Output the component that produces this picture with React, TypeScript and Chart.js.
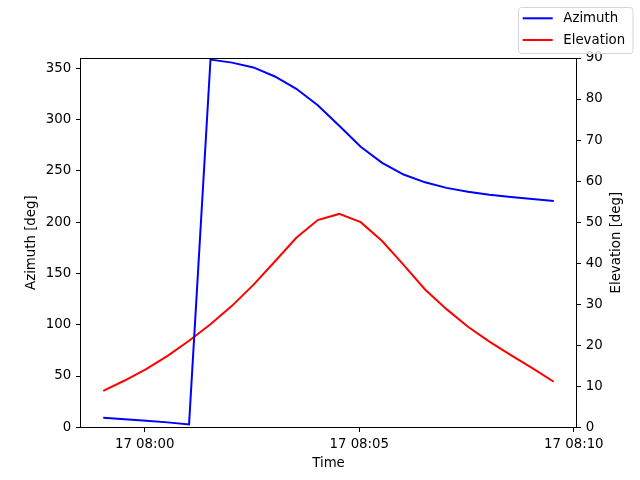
import React, { useEffect, useRef } from "react";
import { Chart, registerables } from "chart.js";

Chart.register(...registerables);

// ---- data ----
const day = "17";
const times = [
  "07:59:02", "07:59:32", "08:00:02", "08:00:32", "08:01:02", "08:01:32",
  "08:02:02", "08:02:32", "08:03:02", "08:03:32", "08:04:02", "08:04:32",
  "08:05:02", "08:05:32", "08:06:02", "08:06:32", "08:07:02", "08:07:32",
  "08:08:02", "08:08:32", "08:09:02", "08:09:32",
];
const azimuth = [
  9.3, 7.8, 6.3, 4.8, 2.8, 358.5, 355.5, 350.8, 342.0, 330.0, 314.0,
  294.0, 273.5, 257.8, 246.4, 238.8, 233.4, 229.6, 226.8, 224.6, 222.6, 220.6,
];
const elevation = [
  8.9, 11.4, 14.2, 17.4, 21.1, 25.1, 29.6, 34.7, 40.4, 46.2, 50.5,
  52.0, 50.0, 45.4, 39.6, 33.6, 28.8, 24.5, 20.9, 17.6, 14.4, 11.1,
];
const xTickTimes = ["08:00", "08:05", "08:10"];
const azTicks = [0, 50, 100, 150, 200, 250, 300, 350];
const elTicks = [0, 10, 20, 30, 40, 50, 60, 70, 80, 90];
const seriesNames = ["Azimuth", "Elevation"];
const seriesColors = ["#0000ff", "#ff0000"];

// minutes relative to 08:00
const toMin = (s: string) => {
  const p = s.split(":").map(Number);
  return p[0] * 60 + p[1] + (p[2] || 0) / 60 - 480;
};
const fmt = (m: number) => {
  const tot = Math.round(m + 480);
  const h = Math.floor(tot / 60);
  const mm = tot % 60;
  return `${day} ${String(h).padStart(2, "0")}:${String(mm).padStart(2, "0")}`;
};

const FONT = "DejaVu Sans";
const FS = 13.33;

export default function App() {
  const ref = useRef<HTMLCanvasElement | null>(null);

  useEffect(() => {
    if (!ref.current) return;
    const xs = times.map(toMin);
    const span = xs[xs.length - 1] - xs[0];
    const xmin = xs[0] - 0.05 * span;
    const xmax = xs[xs.length - 1] + 0.05 * span;

    Chart.defaults.font.family = FONT;
    Chart.defaults.font.size = FS;
    Chart.defaults.color = "#000";

    const deco = {
      id: "deco",
      afterDraw(chart: any) {
        const ctx = chart.ctx;
        const a = chart.chartArea;
        ctx.save();
        // top spine
        ctx.strokeStyle = "#000";
        ctx.lineWidth = 1;
        ctx.beginPath();
        ctx.moveTo(a.left, Math.round(a.top) + 0.5);
        ctx.lineTo(a.right, Math.round(a.top) + 0.5);
        ctx.stroke();

        ctx.fillStyle = "#000";
        ctx.font = `${FS}px '${FONT}'`;
        ctx.textBaseline = "alphabetic";
        ctx.textAlign = "center";
        const cy = (a.top + a.bottom) / 2;
        ctx.fillText("Time", (a.left + a.right) / 2, 466.5);

        ctx.save();
        ctx.translate(35, cy);
        ctx.rotate(-Math.PI / 2);
        ctx.fillText("Azimuth [deg]", 0, 0);
        ctx.restore();

        ctx.save();
        ctx.translate(619.5, cy);
        ctx.rotate(-Math.PI / 2);
        ctx.fillText("Elevation [deg]", 0, 0);
        ctx.restore();

        // legend
        const bx = 518.5, by = 7.5, bw = 114.5, bh = 46;
        const r = 3;
        ctx.beginPath();
        ctx.moveTo(bx + r, by);
        ctx.lineTo(bx + bw - r, by);
        ctx.quadraticCurveTo(bx + bw, by, bx + bw, by + r);
        ctx.lineTo(bx + bw, by + bh - r);
        ctx.quadraticCurveTo(bx + bw, by + bh, bx + bw - r, by + bh);
        ctx.lineTo(bx + r, by + bh);
        ctx.quadraticCurveTo(bx, by + bh, bx, by + bh - r);
        ctx.lineTo(bx, by + r);
        ctx.quadraticCurveTo(bx, by, bx + r, by);
        ctx.closePath();
        ctx.fillStyle = "rgba(255,255,255,0.8)";
        ctx.fill();
        ctx.strokeStyle = "#d6d6d6";
        ctx.stroke();

        const rows = [18.3, 40];
        ctx.textAlign = "left";
        ctx.textBaseline = "middle";
        seriesNames.forEach((name, i) => {
          ctx.strokeStyle = seriesColors[i];
          ctx.lineWidth = 2;
          ctx.beginPath();
          ctx.moveTo(522.7, rows[i]);
          ctx.lineTo(552.7, rows[i]);
          ctx.stroke();
          ctx.fillStyle = "#000";
          ctx.fillText(name, 563.3, rows[i] + 0.5);
        });
        ctx.restore();
      },
    };

    const axisCommon = {
      grid: {
        display: true,
        drawOnChartArea: false,
        drawTicks: true,
        tickLength: 4.7,
        tickColor: "#000",
        tickWidth: 1,
        color: "#000",
      },
      border: { display: true, color: "#000", width: 1 },
    };

    const chart = new Chart(ref.current, {
      type: "line",
      data: {
        datasets: [
          {
            label: seriesNames[0],
            data: xs.map((x, i) => ({ x, y: azimuth[i] })),
            borderColor: seriesColors[0],
            backgroundColor: seriesColors[0],
            borderWidth: 2,
            pointRadius: 0,
            tension: 0,
            yAxisID: "y",
          },
          {
            label: seriesNames[1],
            data: xs.map((x, i) => ({ x, y: elevation[i] })),
            borderColor: seriesColors[1],
            backgroundColor: seriesColors[1],
            borderWidth: 2,
            pointRadius: 0,
            tension: 0,
            yAxisID: "y1",
          },
        ],
      },
      options: {
        responsive: false,
        animation: false,
        devicePixelRatio: 1,
        layout: { padding: { top: 58, left: 0, right: 0, bottom: 0 } },
        plugins: {
          legend: { display: false },
          tooltip: { enabled: false },
          title: { display: false },
        },
        scales: {
          x: {
            type: "linear",
            min: xmin,
            max: xmax,
            ...axisCommon,
            ticks: {
              padding: 4.7,
              maxRotation: 0,
              autoSkip: false,
              callback: (v: any) => fmt(Number(v)),
            },
            afterBuildTicks: (s: any) => {
              s.ticks = xTickTimes.map((t) => ({ value: toMin(t) }));
            },
            afterFit: (s: any) => {
              s.height = 52.7;
            },
          },
          y: {
            type: "linear",
            position: "left",
            min: 0,
            max: 360,
            ...axisCommon,
            ticks: { padding: 4.7, autoSkip: false },
            afterBuildTicks: (s: any) => {
              s.ticks = azTicks.map((v) => ({ value: v }));
            },
            afterFit: (s: any) => {
              s.width = 80.7;
            },
          },
          y1: {
            type: "linear",
            position: "right",
            min: 0,
            max: 90,
            ...axisCommon,
            ticks: { padding: 4.7, autoSkip: false },
            afterBuildTicks: (s: any) => {
              s.ticks = elTicks.map((v) => ({ value: v }));
            },
            afterFit: (s: any) => {
              s.width = 63.7;
            },
          },
        },
      } as any,
      plugins: [deco],
    });
    return () => chart.destroy();
  }, []);

  return (
    <div style={{ position: "absolute", left: 0, top: 0, width: 640, height: 480, background: "#fff" }}>
      <canvas ref={ref} width={640} height={480} style={{ width: 640, height: 480, display: "block" }} />
    </div>
  );
}
